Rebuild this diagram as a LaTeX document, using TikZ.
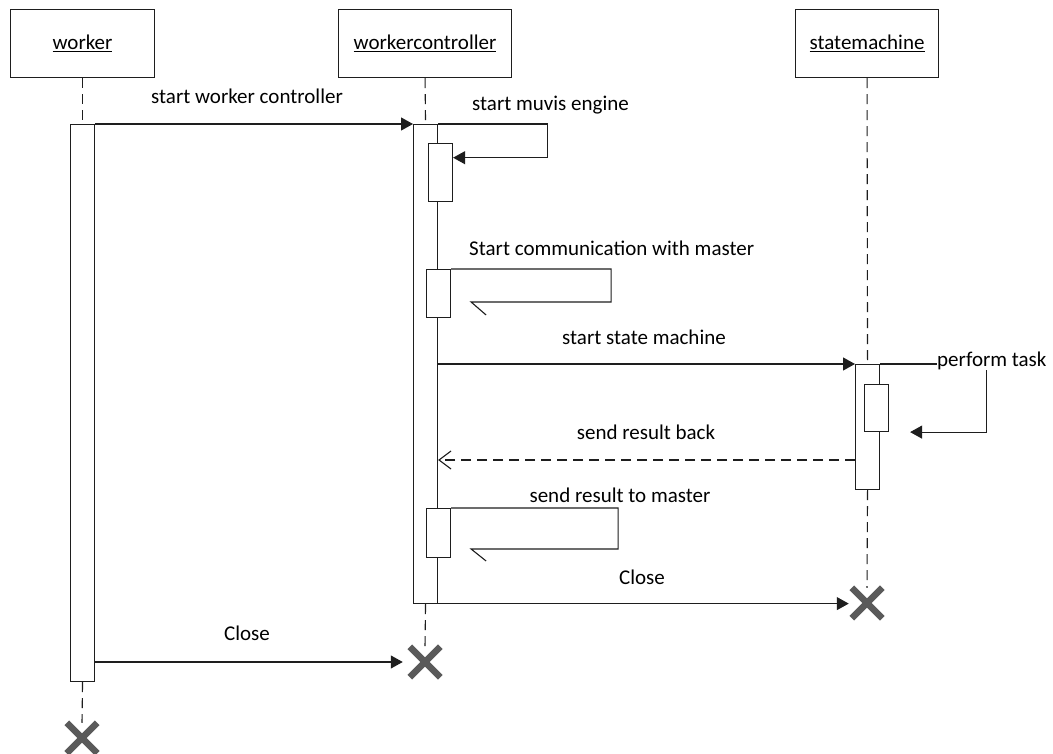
\documentclass[tikz,border=0pt]{standalone}
\usepackage{fontspec}
\setmainfont{Carlito}
\usetikzlibrary{arrows.meta,shapes.misc,calc}
\definecolor{ink}{RGB}{30,30,30}
\definecolor{xgray}{RGB}{90,90,90}
\begin{document}
\begin{tikzpicture}[x=1pt,y=-1pt,
  font=\fontsize{21}{25}\selectfont,
  head/.style={draw=ink, fill=white, line width=1.1pt, minimum height=68pt,
    anchor=north west, inner sep=0pt},
  act/.style={draw=ink, fill=white, line width=1.1pt, minimum width=24pt,
    anchor=north west, inner sep=0pt},
  life/.style={draw=ink, line width=1.1pt, dash pattern=on 10pt off 6pt},
  call/.style={draw=ink, line width=1.1pt},
  msg/.style={call, -{Triangle[length=12pt,width=13pt]}},
  reply/.style={call, dash pattern=on 10pt off 6pt,
    -{Straight Barb[length=12pt,width=18pt]}},
  destroy/.style={cross out, draw=xgray, line width=6.5pt, minimum size=24pt,
    inner sep=0pt},
  lbl/.style={text=black, inner sep=0pt},
]
\useasboundingbox (0,0) rectangle (1053,754);
\fill[white] (0,0) rectangle (1053,754);

% participants
\node[head, minimum width=144pt] (worker) at (10,9) {\underline{worker}};
\node[head, minimum width=173pt] (wc) at (338,9) {\underline{workercontroller}};
\node[head, minimum width=143pt] (sm) at (795,9) {\underline{statemachine}};

% activation bars
\node[act, minimum height=557pt] (wact) at (70,124) {};
\node[act, minimum height=479pt] (wcact) at (413,124) {};
\node[act, minimum height=125pt] (smact) at (855,364) {};
\node[act, minimum height=58pt] (b1) at (428,143) {};
\node[act, minimum height=48pt] (b2) at (426,269) {};
\node[act, minimum height=49pt] (b3) at (426,508) {};
\node[act, minimum height=47pt] (b4) at (864,384) {};

% destruction marks
\node[destroy] (xw) at (82,738) {};
\node[destroy] (xwc) at (425,662) {};
\node[destroy] (xsm) at (867,603) {};

% lifelines
\draw[life] (worker.south) -- (wact.north);
\draw[life] (wact.south) -- (xw.north);
\draw[life] (wc.south) -- (wcact.north);
\draw[life] (wcact.south) -- (xwc.north);
\draw[life] (sm.south) -- (smact.north);
\draw[life] (smact.south) -- (xsm.north);

% labels
\node[lbl] (l1) at (247,96) {start worker controller};
\node[lbl, anchor=west] (l2) at (472,105) {start muvis engine};
\node[lbl, anchor=west] (l3) at (469,248) {Start communication with master};
\node[lbl] (l4) at (644,337) {start state machine};
\node[lbl, anchor=west] (ptask) at (937,361) {perform task};
\node[lbl] (l6) at (646,432) {send result back};
\node[lbl] (l7) at (620,495) {send result to master};
\node[lbl] (l8) at (642,577) {Close};
\node[lbl] (l9) at (247,633) {Close};

% messages
\draw[msg] (wact.north east) -- (wcact.north west);
\draw[msg] (wcact.north east) -- ++(109,0) |- ($(b1.north east)+(0,14.7)$);
\draw[call] (b2.north east) -- ++(160,0) |- ($(b2.north east)+(20,33)$) -- ++(15,13);
\draw[msg] (wcact.east |- smact.north) -- (smact.north west);
\draw[call] (smact.north east) -- (ptask.west |- smact.north);
\coordinate (pt0) at ($(ptask.south)+(-5.5,0)$);
\coordinate (pt1) at ($(b4.south east)+(21,0)$);
\draw[msg] (pt0) |- (pt1);
\coordinate (rb) at ($(smact.north west)+(0,96)$);
\draw[reply] (rb) -- (wcact.east |- rb);
\draw[call] (b3.north east) -- ++(167,0) |- ($(b3.north east)+(20,41)$) -- ++(15,12);
\coordinate (c8) at ($(wcact.south east)+(0,-0.5)$);
\draw[msg, shorten >=3pt] (c8) -- (c8 -| xsm.west);
\coordinate (c9) at ($(wact.north east)+(0,538)$);
\draw[msg, shorten >=7pt] (c9) -- (c9 -| xwc.west);
\end{tikzpicture}
\end{document}
